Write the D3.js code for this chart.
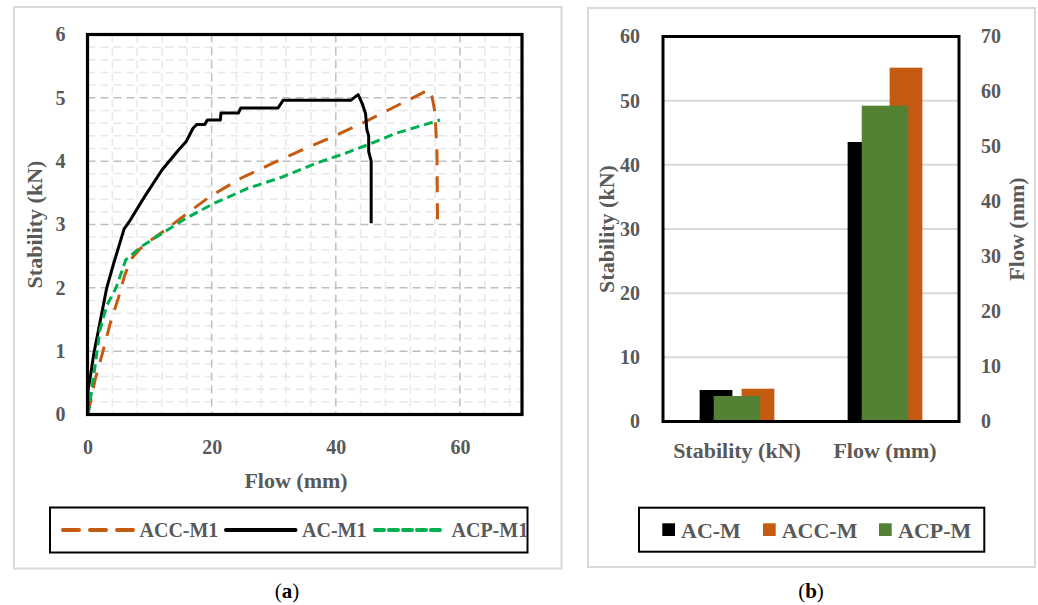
<!DOCTYPE html>
<html><head><meta charset="utf-8">
<script src="https://cdn.jsdelivr.net/npm/d3@7"></script>
<style>
html,body{margin:0;padding:0;background:#fff;}
svg text{font-family:"Liberation Serif","Times New Roman",serif;}
</style>
</head><body>
<svg id="c" width="1038" height="605"></svg>
<script>
// ---------- data (a) ----------
const accX = [0,0.5,1.2,2.55,3.66,5.0,6.0,7.0,8.5,10,12.5,16.4,19.7,24.7,30.3,34.4,40.1,44.7,48.7,52.8,55.0,55.5,56.0,56.3,56.4];
const accY = [0,0.2,0.54,1.02,1.44,1.85,2.2,2.45,2.62,2.74,2.91,3.2,3.44,3.73,3.99,4.17,4.41,4.62,4.82,5.02,5.13,5.02,4.76,4.12,2.94];
const acX  = [0,0.1,0.5,1,2,3.1,4.2,5.9,6.7,9.2,12,14.7,15.9,17,17.6,18.9,19.3,21.4,21.5,24.3,24.7,30.7,31.5,42.4,43.6,44.3,44.8,45.0,45.3,45.3,45.7,45.7];
const acY  = [0,0.4,0.62,0.95,1.45,2.0,2.38,2.93,3.04,3.44,3.86,4.18,4.31,4.52,4.58,4.58,4.65,4.65,4.76,4.76,4.84,4.84,4.96,4.96,5.05,4.9,4.75,4.5,4.4,4.15,4.0,3.02];
const acpX = [0,0.2,0.9,2.0,3.1,4.6,6.15,8.65,12,15.9,20.3,25.8,31.4,36.9,41.4,45.2,49.7,56.8];
const acpY = [0,0.05,0.54,1.33,1.72,2.0,2.44,2.65,2.86,3.1,3.33,3.57,3.75,3.97,4.12,4.26,4.44,4.65];
const xTicksA = [0,20,40,60];
const yTicksA = [0,1,2,3,4,5,6];
const lineNames = ["ACC-M1","AC-M1","ACP-M1"];

// ---------- data (b) ----------
const barCategories = ["Stability (kN)","Flow (mm)"];
const acM  = [4.91, 43.56];   // primary axis
const accM = [5.11, 55.14];   // primary axis
const acpM = [4.64, 57.42];   // secondary axis
const yTicksBL = [0,10,20,30,40,50,60];
const yTicksBR = [0,10,20,30,40,50,60,70];
const barNames = ["AC-M","ACC-M","ACP-M"];

const svg = d3.select("#c");
svg.append("rect").attr("width",1038).attr("height",605).attr("fill","#fff");
const GRAY = "#595959";
const ORANGE = "#C55A11", GREEN_L = "#00B050", GREEN_B = "#548235";
const fmt = d3.format("d");

// ================= Panel (a) =================
svg.append("rect").attr("x",14).attr("y",7).attr("width",547.5).attr("height",561.5)
  .attr("fill","none").attr("stroke","#d9d9d9").attr("stroke-width",2);

const xA = d3.scaleLinear().domain([0,70]).range([87.5,522]);
const yA = d3.scaleLinear().domain([0,6]).range([414.5,34.5]);

// minor grid
const minorX = d3.range(4,70,4).filter(v=>v%20!==0);
const minorY = d3.range(1,30).map(i=>i*0.2).filter(v=>Math.abs(v-Math.round(v))>1e-6);
const ga = svg.append("g");
ga.selectAll(".mx").data(minorX).join("line")
  .attr("x1",d=>xA(d)).attr("x2",d=>xA(d)).attr("y1",yA(6)).attr("y2",yA(0))
  .attr("stroke","#e8e8e8").attr("stroke-width",1.5).attr("stroke-dasharray","8,5");
ga.selectAll(".my").data(minorY).join("line")
  .attr("x1",xA(0)).attr("x2",xA(70)).attr("y1",d=>yA(d)).attr("y2",d=>yA(d))
  .attr("stroke","#e8e8e8").attr("stroke-width",1.5).attr("stroke-dasharray","8,5");
// major grid
ga.selectAll(".Mx").data([20,40,60]).join("line")
  .attr("x1",d=>xA(d)).attr("x2",d=>xA(d)).attr("y1",yA(6)).attr("y2",yA(0))
  .attr("stroke","#bfbfbf").attr("stroke-width",1.5).attr("stroke-dasharray","8,5");
ga.selectAll(".My").data([1,2,3,4,5]).join("line")
  .attr("x1",xA(0)).attr("x2",xA(70)).attr("y1",d=>yA(d)).attr("y2",d=>yA(d))
  .attr("stroke","#bfbfbf").attr("stroke-width",1.5).attr("stroke-dasharray","8,5");

// lines
const lineGen = d3.line().x(d=>xA(d[0])).y(d=>yA(d[1]));
const seriesA = [
  {x:accX,y:accY,color:ORANGE,dash:"16,11",w:3},
  {x:acX,y:acY,color:"#000",dash:null,w:3},
  {x:acpX,y:acpY,color:GREEN_L,dash:"9,5",w:3}
];
seriesA.forEach(s=>{
  svg.append("path").datum(s.x.map((v,i)=>[v,s.y[i]]))
    .attr("d",lineGen).attr("fill","none").attr("stroke",s.color)
    .attr("stroke-width",s.w).attr("stroke-dasharray",s.dash)
    .attr("stroke-linejoin","round");
});

// frame
svg.append("rect").attr("x",xA(0)).attr("y",yA(6)).attr("width",xA(70)-xA(0)).attr("height",yA(0)-yA(6))
  .attr("fill","none").attr("stroke","#000").attr("stroke-width",3.2);

// axes
const axXA = svg.append("g").attr("transform",`translate(0,${yA(0)})`)
  .call(d3.axisBottom(xA).tickValues(xTicksA).tickFormat(fmt).tickSize(0).tickPadding(25));
const axYA = svg.append("g").attr("transform",`translate(${xA(0)},0)`)
  .call(d3.axisLeft(yA).tickValues(yTicksA).tickFormat(fmt).tickSize(0).tickPadding(22));
[axXA,axYA].forEach(a=>{
  a.select(".domain").remove();
  a.attr("font-family","Liberation Serif");
  a.selectAll("text").attr("fill",GRAY).attr("font-size",20).attr("font-weight","bold");
});
svg.append("text").attr("x",296).attr("y",488).attr("text-anchor","middle")
  .attr("font-size",22).attr("font-weight","bold").attr("fill",GRAY).text("Flow (mm)");
svg.append("text").attr("transform","translate(34.5,224.5) rotate(-90)")
  .attr("text-anchor","middle").attr("dy","0.35em")
  .attr("font-size",22).attr("font-weight","bold").attr("fill",GRAY).text("Stability (kN)");

// legend (a)
svg.append("rect").attr("x",50).attr("y",507.5).attr("width",477.5).attr("height",45)
  .attr("fill","#fff").attr("stroke","#000").attr("stroke-width",2);
const legA = [
  {x1:63,x2:133,tx:139.5},
  {x1:226,x2:295.5,tx:302},
  {x1:375,x2:445,tx:451.5}
];
legA.forEach((p,i)=>{
  const s = seriesA[i];
  svg.append("line").attr("x1",p.x1).attr("x2",p.x2).attr("y1",530).attr("y2",530)
    .attr("stroke",s.color).attr("stroke-width",4).attr("stroke-dasharray",s.dash)
    .attr("stroke-linecap","round");
  svg.append("text").attr("x",p.tx).attr("y",537).attr("font-size",20).attr("font-weight","bold")
    .attr("fill",GRAY).text(lineNames[i]);
});
const ta = svg.append("text").attr("x",287).attr("y",598).attr("text-anchor","middle")
  .attr("font-size",21).attr("fill","#000");
ta.append("tspan").text("(");
ta.append("tspan").attr("font-weight","bold").text("a");
ta.append("tspan").text(")");

// ================= Panel (b) =================
svg.append("rect").attr("x",588).attr("y",8).attr("width",447).attr("height",559)
  .attr("fill","none").attr("stroke","#d9d9d9").attr("stroke-width",2);

const xB = d3.scaleBand().domain(barCategories).range([663,959]);
const yBL = d3.scaleLinear().domain([0,60]).range([421.5,36.5]);
const yBR = d3.scaleLinear().domain([0,70]).range([421.5,36.5]);
const xPrim = d3.scaleBand().domain(["AC-M","ACC-M"]).range([0,xB.bandwidth()])
  .paddingInner(0.221).paddingOuter(0.872);
const xSec = d3.scaleBand().domain(["ACP-M"]).range([0,xB.bandwidth()])
  .paddingInner(0).paddingOuter(1.09);

svg.append("g").selectAll("line").data(yTicksBL.filter(d=>d>0&&d<60)).join("line")
  .attr("x1",xB.range()[0]).attr("x2",xB.range()[1]).attr("y1",d=>yBL(d)).attr("y2",d=>yBL(d))
  .attr("stroke","#d9d9d9").attr("stroke-width",2);

const barSeries = [
  {vals:acM, color:"#000", key:"AC-M", sx:xPrim, sy:yBL},
  {vals:accM, color:ORANGE, key:"ACC-M", sx:xPrim, sy:yBL},
  {vals:acpM, color:GREEN_B, key:"ACP-M", sx:xSec, sy:yBR}
];
barSeries.forEach(s=>{
  svg.append("g").selectAll("rect").data(barCategories).join("rect")
    .attr("x",(c)=>xB(c)+s.sx(s.key)).attr("width",s.sx.bandwidth())
    .attr("y",(c,i)=>s.sy(s.vals[i])).attr("height",(c,i)=>s.sy(0)-s.sy(s.vals[i]))
    .attr("fill",s.color);
});

svg.append("rect").attr("x",663).attr("y",yBL(60)).attr("width",296).attr("height",yBL(0)-yBL(60))
  .attr("fill","none").attr("stroke","#000").attr("stroke-width",3);

const axBX = svg.append("g").attr("transform",`translate(0,${yBL(0)})`)
  .call(d3.axisBottom(xB).tickSize(0).tickPadding(21));
const axBL = svg.append("g").attr("transform",`translate(663,0)`)
  .call(d3.axisLeft(yBL).tickValues(yTicksBL).tickFormat(fmt).tickSize(0).tickPadding(23));
const axBR = svg.append("g").attr("transform",`translate(959,0)`)
  .call(d3.axisRight(yBR).tickValues(yTicksBR).tickFormat(fmt).tickSize(0).tickPadding(22));
[axBX,axBL,axBR].forEach(a=>{
  a.select(".domain").remove();
  a.attr("font-family","Liberation Serif");
  a.selectAll("text").attr("fill",GRAY).attr("font-size",20).attr("font-weight","bold");
});
axBX.selectAll("text").attr("font-size",22);
svg.append("text").attr("transform","translate(606.5,229) rotate(-90)")
  .attr("text-anchor","middle").attr("dy","0.35em")
  .attr("font-size",22).attr("font-weight","bold").attr("fill",GRAY).text("Stability (kN)");
svg.append("text").attr("transform","translate(1016.5,229) rotate(-90)")
  .attr("text-anchor","middle").attr("dy","0.35em")
  .attr("font-size",22).attr("font-weight","bold").attr("fill",GRAY).text("Flow (mm)");

// legend (b)
svg.append("rect").attr("x",639).attr("y",507.7).attr("width",345.3).attr("height",44)
  .attr("fill","#fff").attr("stroke","#000").attr("stroke-width",2);
const legB = [{sx:662.3,tx:681},{sx:763,tx:781.7},{sx:879,tx:898}];
const legColors = ["#000",ORANGE,GREEN_B];
legB.forEach((p,i)=>{
  svg.append("rect").attr("x",p.sx).attr("y",523.3).attr("width",12.7).attr("height",12.7).attr("fill",legColors[i]);
  svg.append("text").attr("x",p.tx).attr("y",537.5).attr("font-size",22).attr("font-weight","bold")
    .attr("fill",GRAY).text(barNames[i]);
});
const tb = svg.append("text").attr("x",811).attr("y",598).attr("text-anchor","middle")
  .attr("font-size",21).attr("fill","#000");
tb.append("tspan").text("(");
tb.append("tspan").attr("font-weight","bold").text("b");
tb.append("tspan").text(")");
</script>
</body></html>
